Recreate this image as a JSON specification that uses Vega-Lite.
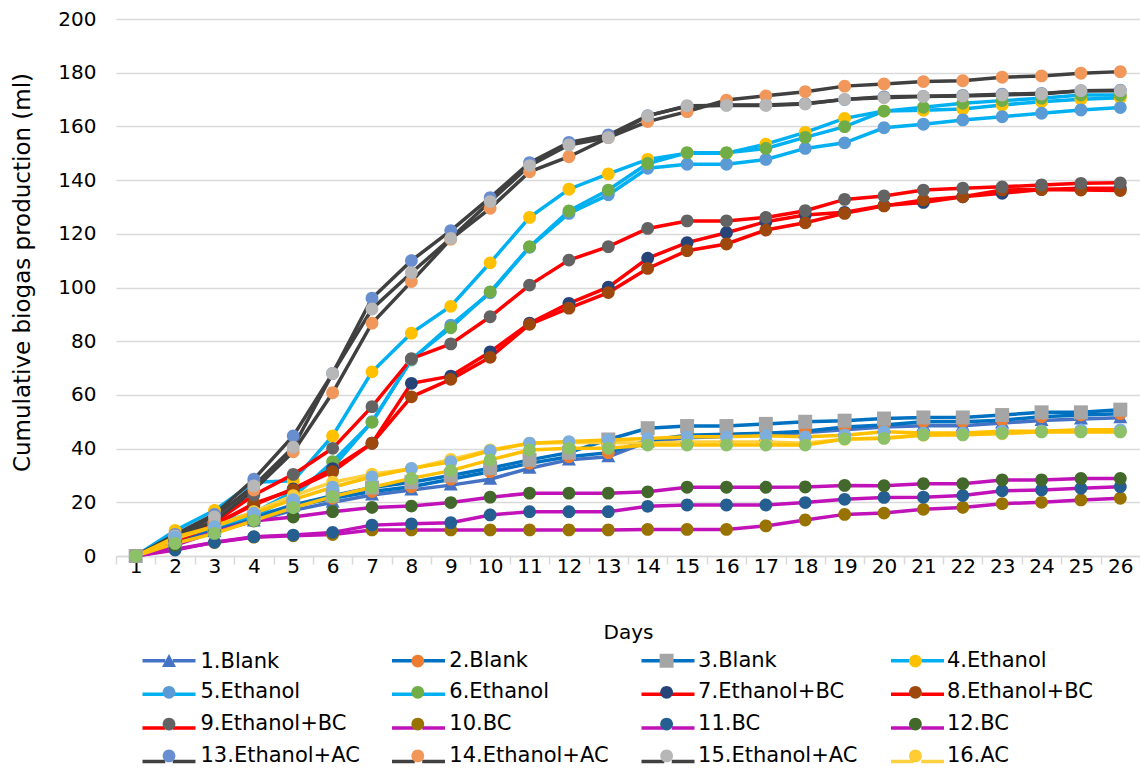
{
"$schema":"https://vega.github.io/schema/vega-lite/v6.json",
"width":1024,"height":537,
"autosize":{"type":"none"},
"padding":{"left":116,"top":19,"right":0,"bottom":217},
"background":"white",
"config":{"view":{"stroke":null},"font":"DejaVu Sans"},
"data":{"values":[
{"s":"1.Blank","i":1,"d":1,"v":0},{"s":"1.Blank","i":1,"d":2,"v":5},{"s":"1.Blank","i":1,"d":3,"v":9},{"s":"1.Blank","i":1,"d":4,"v":13},{"s":"1.Blank","i":1,"d":5,"v":17},{"s":"1.Blank","i":1,"d":6,"v":20},{"s":"1.Blank","i":1,"d":7,"v":22.7},{"s":"1.Blank","i":1,"d":8,"v":24.6},{"s":"1.Blank","i":1,"d":9,"v":26.4},{"s":"1.Blank","i":1,"d":10,"v":28.6},{"s":"1.Blank","i":1,"d":11,"v":32.7},{"s":"1.Blank","i":1,"d":12,"v":35.8},{"s":"1.Blank","i":1,"d":13,"v":37},{"s":"1.Blank","i":1,"d":14,"v":42.5},{"s":"1.Blank","i":1,"d":15,"v":44},{"s":"1.Blank","i":1,"d":16,"v":44.5},{"s":"1.Blank","i":1,"d":17,"v":45},{"s":"1.Blank","i":1,"d":18,"v":46},{"s":"1.Blank","i":1,"d":19,"v":47},{"s":"1.Blank","i":1,"d":20,"v":48},{"s":"1.Blank","i":1,"d":21,"v":48.5},{"s":"1.Blank","i":1,"d":22,"v":48.5},{"s":"1.Blank","i":1,"d":23,"v":49.5},{"s":"1.Blank","i":1,"d":24,"v":50.5},{"s":"1.Blank","i":1,"d":25,"v":51},{"s":"1.Blank","i":1,"d":26,"v":51.5},
{"s":"2.Blank","i":2,"d":1,"v":0},{"s":"2.Blank","i":2,"d":2,"v":5.5},{"s":"2.Blank","i":2,"d":3,"v":10},{"s":"2.Blank","i":2,"d":4,"v":14},{"s":"2.Blank","i":2,"d":5,"v":18.5},{"s":"2.Blank","i":2,"d":6,"v":21.5},{"s":"2.Blank","i":2,"d":7,"v":24},{"s":"2.Blank","i":2,"d":8,"v":25.8},{"s":"2.Blank","i":2,"d":9,"v":28.6},{"s":"2.Blank","i":2,"d":10,"v":31.4},{"s":"2.Blank","i":2,"d":11,"v":34.5},{"s":"2.Blank","i":2,"d":12,"v":37},{"s":"2.Blank","i":2,"d":13,"v":38.5},{"s":"2.Blank","i":2,"d":14,"v":43},{"s":"2.Blank","i":2,"d":15,"v":45},{"s":"2.Blank","i":2,"d":16,"v":45.3},{"s":"2.Blank","i":2,"d":17,"v":45.7},{"s":"2.Blank","i":2,"d":18,"v":46.5},{"s":"2.Blank","i":2,"d":19,"v":48},{"s":"2.Blank","i":2,"d":20,"v":48.8},{"s":"2.Blank","i":2,"d":21,"v":50},{"s":"2.Blank","i":2,"d":22,"v":50},{"s":"2.Blank","i":2,"d":23,"v":50.6},{"s":"2.Blank","i":2,"d":24,"v":51.9},{"s":"2.Blank","i":2,"d":25,"v":52.5},{"s":"2.Blank","i":2,"d":26,"v":53},
{"s":"3.Blank","i":3,"d":1,"v":0},{"s":"3.Blank","i":3,"d":2,"v":6},{"s":"3.Blank","i":3,"d":3,"v":10.5},{"s":"3.Blank","i":3,"d":4,"v":14.5},{"s":"3.Blank","i":3,"d":5,"v":19},{"s":"3.Blank","i":3,"d":6,"v":22.5},{"s":"3.Blank","i":3,"d":7,"v":25.5},{"s":"3.Blank","i":3,"d":8,"v":27.5},{"s":"3.Blank","i":3,"d":9,"v":30},{"s":"3.Blank","i":3,"d":10,"v":32.7},{"s":"3.Blank","i":3,"d":11,"v":35.8},{"s":"3.Blank","i":3,"d":12,"v":38.5},{"s":"3.Blank","i":3,"d":13,"v":43.4},{"s":"3.Blank","i":3,"d":14,"v":47.6},{"s":"3.Blank","i":3,"d":15,"v":48.4},{"s":"3.Blank","i":3,"d":16,"v":48.4},{"s":"3.Blank","i":3,"d":17,"v":49.2},{"s":"3.Blank","i":3,"d":18,"v":50},{"s":"3.Blank","i":3,"d":19,"v":50.4},{"s":"3.Blank","i":3,"d":20,"v":51.2},{"s":"3.Blank","i":3,"d":21,"v":51.6},{"s":"3.Blank","i":3,"d":22,"v":51.6},{"s":"3.Blank","i":3,"d":23,"v":52.5},{"s":"3.Blank","i":3,"d":24,"v":53.5},{"s":"3.Blank","i":3,"d":25,"v":53.5},{"s":"3.Blank","i":3,"d":26,"v":54.5},
{"s":"4.Ethanol","i":4,"d":1,"v":0},{"s":"4.Ethanol","i":4,"d":2,"v":9.5},{"s":"4.Ethanol","i":4,"d":3,"v":17},{"s":"4.Ethanol","i":4,"d":4,"v":27.5},{"s":"4.Ethanol","i":4,"d":5,"v":28},{"s":"4.Ethanol","i":4,"d":6,"v":44.7},{"s":"4.Ethanol","i":4,"d":7,"v":68.6},{"s":"4.Ethanol","i":4,"d":8,"v":83},{"s":"4.Ethanol","i":4,"d":9,"v":93},{"s":"4.Ethanol","i":4,"d":10,"v":109.2},{"s":"4.Ethanol","i":4,"d":11,"v":126.1},{"s":"4.Ethanol","i":4,"d":12,"v":136.6},{"s":"4.Ethanol","i":4,"d":13,"v":142.3},{"s":"4.Ethanol","i":4,"d":14,"v":147.7},{"s":"4.Ethanol","i":4,"d":15,"v":150},{"s":"4.Ethanol","i":4,"d":16,"v":150},{"s":"4.Ethanol","i":4,"d":17,"v":153.4},{"s":"4.Ethanol","i":4,"d":18,"v":157.8},{"s":"4.Ethanol","i":4,"d":19,"v":163},{"s":"4.Ethanol","i":4,"d":20,"v":165.7},{"s":"4.Ethanol","i":4,"d":21,"v":166},{"s":"4.Ethanol","i":4,"d":22,"v":166.5},{"s":"4.Ethanol","i":4,"d":23,"v":168},{"s":"4.Ethanol","i":4,"d":24,"v":169.2},{"s":"4.Ethanol","i":4,"d":25,"v":170.1},{"s":"4.Ethanol","i":4,"d":26,"v":170.7},
{"s":"5.Ethanol","i":5,"d":1,"v":0},{"s":"5.Ethanol","i":5,"d":2,"v":7},{"s":"5.Ethanol","i":5,"d":3,"v":12},{"s":"5.Ethanol","i":5,"d":4,"v":16},{"s":"5.Ethanol","i":5,"d":5,"v":24},{"s":"5.Ethanol","i":5,"d":6,"v":33},{"s":"5.Ethanol","i":5,"d":7,"v":50},{"s":"5.Ethanol","i":5,"d":8,"v":73},{"s":"5.Ethanol","i":5,"d":9,"v":86},{"s":"5.Ethanol","i":5,"d":10,"v":98},{"s":"5.Ethanol","i":5,"d":11,"v":115},{"s":"5.Ethanol","i":5,"d":12,"v":127.6},{"s":"5.Ethanol","i":5,"d":13,"v":134.5},{"s":"5.Ethanol","i":5,"d":14,"v":144.4},{"s":"5.Ethanol","i":5,"d":15,"v":145.9},{"s":"5.Ethanol","i":5,"d":16,"v":145.9},{"s":"5.Ethanol","i":5,"d":17,"v":147.7},{"s":"5.Ethanol","i":5,"d":18,"v":151.8},{"s":"5.Ethanol","i":5,"d":19,"v":153.9},{"s":"5.Ethanol","i":5,"d":20,"v":159.5},{"s":"5.Ethanol","i":5,"d":21,"v":160.8},{"s":"5.Ethanol","i":5,"d":22,"v":162.4},{"s":"5.Ethanol","i":5,"d":23,"v":163.6},{"s":"5.Ethanol","i":5,"d":24,"v":164.9},{"s":"5.Ethanol","i":5,"d":25,"v":166.1},{"s":"5.Ethanol","i":5,"d":26,"v":167},
{"s":"6.Ethanol","i":6,"d":1,"v":0},{"s":"6.Ethanol","i":6,"d":2,"v":6},{"s":"6.Ethanol","i":6,"d":3,"v":11},{"s":"6.Ethanol","i":6,"d":4,"v":15},{"s":"6.Ethanol","i":6,"d":5,"v":22},{"s":"6.Ethanol","i":6,"d":6,"v":35.1},{"s":"6.Ethanol","i":6,"d":7,"v":49.8},{"s":"6.Ethanol","i":6,"d":8,"v":73.3},{"s":"6.Ethanol","i":6,"d":9,"v":85},{"s":"6.Ethanol","i":6,"d":10,"v":98.4},{"s":"6.Ethanol","i":6,"d":11,"v":115.2},{"s":"6.Ethanol","i":6,"d":12,"v":128.5},{"s":"6.Ethanol","i":6,"d":13,"v":136.3},{"s":"6.Ethanol","i":6,"d":14,"v":146.2},{"s":"6.Ethanol","i":6,"d":15,"v":150.2},{"s":"6.Ethanol","i":6,"d":16,"v":150.2},{"s":"6.Ethanol","i":6,"d":17,"v":151.8},{"s":"6.Ethanol","i":6,"d":18,"v":155.9},{"s":"6.Ethanol","i":6,"d":19,"v":159.9},{"s":"6.Ethanol","i":6,"d":20,"v":165.7},{"s":"6.Ethanol","i":6,"d":21,"v":167.1},{"s":"6.Ethanol","i":6,"d":22,"v":168.6},{"s":"6.Ethanol","i":6,"d":23,"v":169.6},{"s":"6.Ethanol","i":6,"d":24,"v":170.5},{"s":"6.Ethanol","i":6,"d":25,"v":171.7},{"s":"6.Ethanol","i":6,"d":26,"v":171.7},
{"s":"7.Ethanol+BC","i":7,"d":1,"v":0},{"s":"7.Ethanol+BC","i":7,"d":2,"v":6},{"s":"7.Ethanol+BC","i":7,"d":3,"v":12},{"s":"7.Ethanol+BC","i":7,"d":4,"v":19},{"s":"7.Ethanol+BC","i":7,"d":5,"v":25},{"s":"7.Ethanol+BC","i":7,"d":6,"v":32.5},{"s":"7.Ethanol+BC","i":7,"d":7,"v":42},{"s":"7.Ethanol+BC","i":7,"d":8,"v":64.3},{"s":"7.Ethanol+BC","i":7,"d":9,"v":67},{"s":"7.Ethanol+BC","i":7,"d":10,"v":76},{"s":"7.Ethanol+BC","i":7,"d":11,"v":86.7},{"s":"7.Ethanol+BC","i":7,"d":12,"v":94.1},{"s":"7.Ethanol+BC","i":7,"d":13,"v":100.1},{"s":"7.Ethanol+BC","i":7,"d":14,"v":110.9},{"s":"7.Ethanol+BC","i":7,"d":15,"v":116.7},{"s":"7.Ethanol+BC","i":7,"d":16,"v":120.4},{"s":"7.Ethanol+BC","i":7,"d":17,"v":124.5},{"s":"7.Ethanol+BC","i":7,"d":18,"v":127},{"s":"7.Ethanol+BC","i":7,"d":19,"v":128},{"s":"7.Ethanol+BC","i":7,"d":20,"v":130.5},{"s":"7.Ethanol+BC","i":7,"d":21,"v":131.7},{"s":"7.Ethanol+BC","i":7,"d":22,"v":133.8},{"s":"7.Ethanol+BC","i":7,"d":23,"v":135.1},{"s":"7.Ethanol+BC","i":7,"d":24,"v":136.5},{"s":"7.Ethanol+BC","i":7,"d":25,"v":137},{"s":"7.Ethanol+BC","i":7,"d":26,"v":137},
{"s":"8.Ethanol+BC","i":8,"d":1,"v":0},{"s":"8.Ethanol+BC","i":8,"d":2,"v":5.5},{"s":"8.Ethanol+BC","i":8,"d":3,"v":11.5},{"s":"8.Ethanol+BC","i":8,"d":4,"v":19.6},{"s":"8.Ethanol+BC","i":8,"d":5,"v":24.6},{"s":"8.Ethanol+BC","i":8,"d":6,"v":31.4},{"s":"8.Ethanol+BC","i":8,"d":7,"v":42},{"s":"8.Ethanol+BC","i":8,"d":8,"v":59.3},{"s":"8.Ethanol+BC","i":8,"d":9,"v":65.8},{"s":"8.Ethanol+BC","i":8,"d":10,"v":74},{"s":"8.Ethanol+BC","i":8,"d":11,"v":86.3},{"s":"8.Ethanol+BC","i":8,"d":12,"v":92.3},{"s":"8.Ethanol+BC","i":8,"d":13,"v":98.1},{"s":"8.Ethanol+BC","i":8,"d":14,"v":107.1},{"s":"8.Ethanol+BC","i":8,"d":15,"v":113.7},{"s":"8.Ethanol+BC","i":8,"d":16,"v":116.2},{"s":"8.Ethanol+BC","i":8,"d":17,"v":121.4},{"s":"8.Ethanol+BC","i":8,"d":18,"v":124.1},{"s":"8.Ethanol+BC","i":8,"d":19,"v":127.6},{"s":"8.Ethanol+BC","i":8,"d":20,"v":130.4},{"s":"8.Ethanol+BC","i":8,"d":21,"v":132.6},{"s":"8.Ethanol+BC","i":8,"d":22,"v":133.8},{"s":"8.Ethanol+BC","i":8,"d":23,"v":136.3},{"s":"8.Ethanol+BC","i":8,"d":24,"v":136.5},{"s":"8.Ethanol+BC","i":8,"d":25,"v":136.3},{"s":"8.Ethanol+BC","i":8,"d":26,"v":136.1},
{"s":"9.Ethanol+BC","i":9,"d":1,"v":0},{"s":"9.Ethanol+BC","i":9,"d":2,"v":6},{"s":"9.Ethanol+BC","i":9,"d":3,"v":12.5},{"s":"9.Ethanol+BC","i":9,"d":4,"v":22.7},{"s":"9.Ethanol+BC","i":9,"d":5,"v":30.4},{"s":"9.Ethanol+BC","i":9,"d":6,"v":40.1},{"s":"9.Ethanol+BC","i":9,"d":7,"v":55.6},{"s":"9.Ethanol+BC","i":9,"d":8,"v":73.5},{"s":"9.Ethanol+BC","i":9,"d":9,"v":79},{"s":"9.Ethanol+BC","i":9,"d":10,"v":89.1},{"s":"9.Ethanol+BC","i":9,"d":11,"v":100.9},{"s":"9.Ethanol+BC","i":9,"d":12,"v":110.2},{"s":"9.Ethanol+BC","i":9,"d":13,"v":115.2},{"s":"9.Ethanol+BC","i":9,"d":14,"v":122},{"s":"9.Ethanol+BC","i":9,"d":15,"v":124.8},{"s":"9.Ethanol+BC","i":9,"d":16,"v":124.8},{"s":"9.Ethanol+BC","i":9,"d":17,"v":126.1},{"s":"9.Ethanol+BC","i":9,"d":18,"v":128.6},{"s":"9.Ethanol+BC","i":9,"d":19,"v":132.8},{"s":"9.Ethanol+BC","i":9,"d":20,"v":134.1},{"s":"9.Ethanol+BC","i":9,"d":21,"v":136.3},{"s":"9.Ethanol+BC","i":9,"d":22,"v":137},{"s":"9.Ethanol+BC","i":9,"d":23,"v":137.5},{"s":"9.Ethanol+BC","i":9,"d":24,"v":138.2},{"s":"9.Ethanol+BC","i":9,"d":25,"v":138.8},{"s":"9.Ethanol+BC","i":9,"d":26,"v":139},
{"s":"10.BC","i":10,"d":1,"v":0},{"s":"10.BC","i":10,"d":2,"v":2.5},{"s":"10.BC","i":10,"d":3,"v":5},{"s":"10.BC","i":10,"d":4,"v":7},{"s":"10.BC","i":10,"d":5,"v":7.5},{"s":"10.BC","i":10,"d":6,"v":8},{"s":"10.BC","i":10,"d":7,"v":9.7},{"s":"10.BC","i":10,"d":8,"v":9.7},{"s":"10.BC","i":10,"d":9,"v":9.7},{"s":"10.BC","i":10,"d":10,"v":9.7},{"s":"10.BC","i":10,"d":11,"v":9.7},{"s":"10.BC","i":10,"d":12,"v":9.7},{"s":"10.BC","i":10,"d":13,"v":9.7},{"s":"10.BC","i":10,"d":14,"v":9.9},{"s":"10.BC","i":10,"d":15,"v":9.9},{"s":"10.BC","i":10,"d":16,"v":9.9},{"s":"10.BC","i":10,"d":17,"v":11.2},{"s":"10.BC","i":10,"d":18,"v":13.4},{"s":"10.BC","i":10,"d":19,"v":15.5},{"s":"10.BC","i":10,"d":20,"v":16},{"s":"10.BC","i":10,"d":21,"v":17.4},{"s":"10.BC","i":10,"d":22,"v":18.1},{"s":"10.BC","i":10,"d":23,"v":19.5},{"s":"10.BC","i":10,"d":24,"v":20},{"s":"10.BC","i":10,"d":25,"v":20.9},{"s":"10.BC","i":10,"d":26,"v":21.5},
{"s":"11.BC","i":11,"d":1,"v":0},{"s":"11.BC","i":11,"d":2,"v":2.2},{"s":"11.BC","i":11,"d":3,"v":5.1},{"s":"11.BC","i":11,"d":4,"v":7.2},{"s":"11.BC","i":11,"d":5,"v":7.8},{"s":"11.BC","i":11,"d":6,"v":8.8},{"s":"11.BC","i":11,"d":7,"v":11.5},{"s":"11.BC","i":11,"d":8,"v":12},{"s":"11.BC","i":11,"d":9,"v":12.4},{"s":"11.BC","i":11,"d":10,"v":15.3},{"s":"11.BC","i":11,"d":11,"v":16.5},{"s":"11.BC","i":11,"d":12,"v":16.5},{"s":"11.BC","i":11,"d":13,"v":16.5},{"s":"11.BC","i":11,"d":14,"v":18.5},{"s":"11.BC","i":11,"d":15,"v":19},{"s":"11.BC","i":11,"d":16,"v":19},{"s":"11.BC","i":11,"d":17,"v":19},{"s":"11.BC","i":11,"d":18,"v":19.9},{"s":"11.BC","i":11,"d":19,"v":21.1},{"s":"11.BC","i":11,"d":20,"v":21.8},{"s":"11.BC","i":11,"d":21,"v":21.9},{"s":"11.BC","i":11,"d":22,"v":22.5},{"s":"11.BC","i":11,"d":23,"v":24.3},{"s":"11.BC","i":11,"d":24,"v":24.6},{"s":"11.BC","i":11,"d":25,"v":25.2},{"s":"11.BC","i":11,"d":26,"v":25.8},
{"s":"12.BC","i":12,"d":1,"v":0},{"s":"12.BC","i":12,"d":2,"v":4},{"s":"12.BC","i":12,"d":3,"v":9},{"s":"12.BC","i":12,"d":4,"v":13},{"s":"12.BC","i":12,"d":5,"v":14.5},{"s":"12.BC","i":12,"d":6,"v":16.5},{"s":"12.BC","i":12,"d":7,"v":18.1},{"s":"12.BC","i":12,"d":8,"v":18.6},{"s":"12.BC","i":12,"d":9,"v":19.9},{"s":"12.BC","i":12,"d":10,"v":21.9},{"s":"12.BC","i":12,"d":11,"v":23.4},{"s":"12.BC","i":12,"d":12,"v":23.4},{"s":"12.BC","i":12,"d":13,"v":23.4},{"s":"12.BC","i":12,"d":14,"v":23.9},{"s":"12.BC","i":12,"d":15,"v":25.6},{"s":"12.BC","i":12,"d":16,"v":25.6},{"s":"12.BC","i":12,"d":17,"v":25.6},{"s":"12.BC","i":12,"d":18,"v":25.7},{"s":"12.BC","i":12,"d":19,"v":26.3},{"s":"12.BC","i":12,"d":20,"v":26.2},{"s":"12.BC","i":12,"d":21,"v":26.9},{"s":"12.BC","i":12,"d":22,"v":26.9},{"s":"12.BC","i":12,"d":23,"v":28.3},{"s":"12.BC","i":12,"d":24,"v":28.3},{"s":"12.BC","i":12,"d":25,"v":28.9},{"s":"12.BC","i":12,"d":26,"v":28.9},
{"s":"13.Ethanol+AC","i":13,"d":1,"v":0},{"s":"13.Ethanol+AC","i":13,"d":2,"v":8},{"s":"13.Ethanol+AC","i":13,"d":3,"v":15.5},{"s":"13.Ethanol+AC","i":13,"d":4,"v":28.6},{"s":"13.Ethanol+AC","i":13,"d":5,"v":44.7},{"s":"13.Ethanol+AC","i":13,"d":6,"v":68},{"s":"13.Ethanol+AC","i":13,"d":7,"v":96},{"s":"13.Ethanol+AC","i":13,"d":8,"v":110},{"s":"13.Ethanol+AC","i":13,"d":9,"v":121.2},{"s":"13.Ethanol+AC","i":13,"d":10,"v":133.5},{"s":"13.Ethanol+AC","i":13,"d":11,"v":146.5},{"s":"13.Ethanol+AC","i":13,"d":12,"v":154},{"s":"13.Ethanol+AC","i":13,"d":13,"v":156.8},{"s":"13.Ethanol+AC","i":13,"d":14,"v":164},{"s":"13.Ethanol+AC","i":13,"d":15,"v":167.5},{"s":"13.Ethanol+AC","i":13,"d":16,"v":168},{"s":"13.Ethanol+AC","i":13,"d":17,"v":168},{"s":"13.Ethanol+AC","i":13,"d":18,"v":168.5},{"s":"13.Ethanol+AC","i":13,"d":19,"v":170},{"s":"13.Ethanol+AC","i":13,"d":20,"v":171},{"s":"13.Ethanol+AC","i":13,"d":21,"v":171.2},{"s":"13.Ethanol+AC","i":13,"d":22,"v":171.5},{"s":"13.Ethanol+AC","i":13,"d":23,"v":172},{"s":"13.Ethanol+AC","i":13,"d":24,"v":172.3},{"s":"13.Ethanol+AC","i":13,"d":25,"v":173.3},{"s":"13.Ethanol+AC","i":13,"d":26,"v":173.5},
{"s":"14.Ethanol+AC","i":14,"d":1,"v":0},{"s":"14.Ethanol+AC","i":14,"d":2,"v":7},{"s":"14.Ethanol+AC","i":14,"d":3,"v":13},{"s":"14.Ethanol+AC","i":14,"d":4,"v":24.6},{"s":"14.Ethanol+AC","i":14,"d":5,"v":38.8},{"s":"14.Ethanol+AC","i":14,"d":6,"v":60.8},{"s":"14.Ethanol+AC","i":14,"d":7,"v":86.7},{"s":"14.Ethanol+AC","i":14,"d":8,"v":102.2},{"s":"14.Ethanol+AC","i":14,"d":9,"v":118},{"s":"14.Ethanol+AC","i":14,"d":10,"v":129.5},{"s":"14.Ethanol+AC","i":14,"d":11,"v":143.1},{"s":"14.Ethanol+AC","i":14,"d":12,"v":148.7},{"s":"14.Ethanol+AC","i":14,"d":13,"v":155.8},{"s":"14.Ethanol+AC","i":14,"d":14,"v":161.8},{"s":"14.Ethanol+AC","i":14,"d":15,"v":165.5},{"s":"14.Ethanol+AC","i":14,"d":16,"v":169.8},{"s":"14.Ethanol+AC","i":14,"d":17,"v":171.4},{"s":"14.Ethanol+AC","i":14,"d":18,"v":172.9},{"s":"14.Ethanol+AC","i":14,"d":19,"v":175},{"s":"14.Ethanol+AC","i":14,"d":20,"v":175.8},{"s":"14.Ethanol+AC","i":14,"d":21,"v":176.7},{"s":"14.Ethanol+AC","i":14,"d":22,"v":177},{"s":"14.Ethanol+AC","i":14,"d":23,"v":178.3},{"s":"14.Ethanol+AC","i":14,"d":24,"v":178.8},{"s":"14.Ethanol+AC","i":14,"d":25,"v":179.8},{"s":"14.Ethanol+AC","i":14,"d":26,"v":180.4},
{"s":"15.Ethanol+AC","i":15,"d":1,"v":0},{"s":"15.Ethanol+AC","i":15,"d":2,"v":7.5},{"s":"15.Ethanol+AC","i":15,"d":3,"v":14.6},{"s":"15.Ethanol+AC","i":15,"d":4,"v":26.1},{"s":"15.Ethanol+AC","i":15,"d":5,"v":40.5},{"s":"15.Ethanol+AC","i":15,"d":6,"v":68},{"s":"15.Ethanol+AC","i":15,"d":7,"v":92},{"s":"15.Ethanol+AC","i":15,"d":8,"v":105.5},{"s":"15.Ethanol+AC","i":15,"d":9,"v":118.3},{"s":"15.Ethanol+AC","i":15,"d":10,"v":132},{"s":"15.Ethanol+AC","i":15,"d":11,"v":145.4},{"s":"15.Ethanol+AC","i":15,"d":12,"v":153.1},{"s":"15.Ethanol+AC","i":15,"d":13,"v":155.8},{"s":"15.Ethanol+AC","i":15,"d":14,"v":163.9},{"s":"15.Ethanol+AC","i":15,"d":15,"v":167.7},{"s":"15.Ethanol+AC","i":15,"d":16,"v":167.8},{"s":"15.Ethanol+AC","i":15,"d":17,"v":167.8},{"s":"15.Ethanol+AC","i":15,"d":18,"v":168.3},{"s":"15.Ethanol+AC","i":15,"d":19,"v":170.1},{"s":"15.Ethanol+AC","i":15,"d":20,"v":170.7},{"s":"15.Ethanol+AC","i":15,"d":21,"v":171.1},{"s":"15.Ethanol+AC","i":15,"d":22,"v":171.3},{"s":"15.Ethanol+AC","i":15,"d":23,"v":171.7},{"s":"15.Ethanol+AC","i":15,"d":24,"v":172.1},{"s":"15.Ethanol+AC","i":15,"d":25,"v":173.3},{"s":"15.Ethanol+AC","i":15,"d":26,"v":173.3},
{"s":"16.AC","i":16,"d":1,"v":0},{"s":"16.AC","i":16,"d":2,"v":6.5},{"s":"16.AC","i":16,"d":3,"v":11},{"s":"16.AC","i":16,"d":4,"v":16.5},{"s":"16.AC","i":16,"d":5,"v":22.5},{"s":"16.AC","i":16,"d":6,"v":27.5},{"s":"16.AC","i":16,"d":7,"v":30.5},{"s":"16.AC","i":16,"d":8,"v":32.5},{"s":"16.AC","i":16,"d":9,"v":36},{"s":"16.AC","i":16,"d":10,"v":39.5},{"s":"16.AC","i":16,"d":11,"v":42},{"s":"16.AC","i":16,"d":12,"v":42.3},{"s":"16.AC","i":16,"d":13,"v":42.3},{"s":"16.AC","i":16,"d":14,"v":42},{"s":"16.AC","i":16,"d":15,"v":42.5},{"s":"16.AC","i":16,"d":16,"v":42.5},{"s":"16.AC","i":16,"d":17,"v":42.5},{"s":"16.AC","i":16,"d":18,"v":42},{"s":"16.AC","i":16,"d":19,"v":43.5},{"s":"16.AC","i":16,"d":20,"v":44},{"s":"16.AC","i":16,"d":21,"v":45},{"s":"16.AC","i":16,"d":22,"v":45.5},{"s":"16.AC","i":16,"d":23,"v":45.5},{"s":"16.AC","i":16,"d":24,"v":46.5},{"s":"16.AC","i":16,"d":25,"v":46.5},{"s":"16.AC","i":16,"d":26,"v":46.5},
{"s":"17.AC","i":17,"d":1,"v":0},{"s":"17.AC","i":17,"d":2,"v":7},{"s":"17.AC","i":17,"d":3,"v":11},{"s":"17.AC","i":17,"d":4,"v":16},{"s":"17.AC","i":17,"d":5,"v":21},{"s":"17.AC","i":17,"d":6,"v":25.6},{"s":"17.AC","i":17,"d":7,"v":29.5},{"s":"17.AC","i":17,"d":8,"v":32.6},{"s":"17.AC","i":17,"d":9,"v":35.1},{"s":"17.AC","i":17,"d":10,"v":39.2},{"s":"17.AC","i":17,"d":11,"v":42},{"s":"17.AC","i":17,"d":12,"v":42.6},{"s":"17.AC","i":17,"d":13,"v":43.2},{"s":"17.AC","i":17,"d":14,"v":43.8},{"s":"17.AC","i":17,"d":15,"v":44.4},{"s":"17.AC","i":17,"d":16,"v":44.4},{"s":"17.AC","i":17,"d":17,"v":44.8},{"s":"17.AC","i":17,"d":18,"v":44.4},{"s":"17.AC","i":17,"d":19,"v":45},{"s":"17.AC","i":17,"d":20,"v":46.3},{"s":"17.AC","i":17,"d":21,"v":45.8},{"s":"17.AC","i":17,"d":22,"v":45.8},{"s":"17.AC","i":17,"d":23,"v":46.5},{"s":"17.AC","i":17,"d":24,"v":46.5},{"s":"17.AC","i":17,"d":25,"v":47},{"s":"17.AC","i":17,"d":26,"v":47},
{"s":"18.AC","i":18,"d":1,"v":0},{"s":"18.AC","i":18,"d":2,"v":4.7},{"s":"18.AC","i":18,"d":3,"v":8.4},{"s":"18.AC","i":18,"d":4,"v":13.2},{"s":"18.AC","i":18,"d":5,"v":18},{"s":"18.AC","i":18,"d":6,"v":22.1},{"s":"18.AC","i":18,"d":7,"v":25.6},{"s":"18.AC","i":18,"d":8,"v":28.9},{"s":"18.AC","i":18,"d":9,"v":31.8},{"s":"18.AC","i":18,"d":10,"v":35.8},{"s":"18.AC","i":18,"d":11,"v":39.5},{"s":"18.AC","i":18,"d":12,"v":40.1},{"s":"18.AC","i":18,"d":13,"v":40.1},{"s":"18.AC","i":18,"d":14,"v":41.3},{"s":"18.AC","i":18,"d":15,"v":41.3},{"s":"18.AC","i":18,"d":16,"v":41.3},{"s":"18.AC","i":18,"d":17,"v":41.3},{"s":"18.AC","i":18,"d":18,"v":41.3},{"s":"18.AC","i":18,"d":19,"v":43.6},{"s":"18.AC","i":18,"d":20,"v":43.8},{"s":"18.AC","i":18,"d":21,"v":45.1},{"s":"18.AC","i":18,"d":22,"v":45.1},{"s":"18.AC","i":18,"d":23,"v":45.7},{"s":"18.AC","i":18,"d":24,"v":46.2},{"s":"18.AC","i":18,"d":25,"v":46.2},{"s":"18.AC","i":18,"d":26,"v":46.2}
]},
"encoding":{
"x":{"field":"d","type":"ordinal","scale":{"type":"band","paddingInner":0,"paddingOuter":0},
 "axis":{"title":"Days","titleFontSize":20,"titleFontWeight":"normal","titleColor":"black","titlePadding":46,
 "labelFontSize":20,"labelColor":"black","labelAngle":0,"labelPadding":-8,"tickBand":"extent","domainColor":"#D9D9D9","domainWidth":1.5,"tickColor":"#D9D9D9","tickWidth":1.5,"tickSize":8,"grid":false}},
"y":{"field":"v","type":"quantitative","scale":{"domain":[0,200],"nice":false,"zero":true},
 "axis":{"title":"Cumulative biogas production (ml)","titleFontSize":23,"titleFontWeight":"normal","titleColor":"black","titleX":-94,"titleY":253,"titleBaseline":"middle",
 "values":[0,20,40,60,80,100,120,140,160,180,200],"labelFontSize":20,"labelColor":"black","labelPadding":20,"domain":false,"ticks":false,"grid":true,"gridColor":"#D9D9D9","gridWidth":1.5}}
},
"layer":[
{"mark":{"type":"line","strokeWidth":3.5},
 "encoding":{
  "color":{"field":"s","type":"nominal",
   "scale":{"domain":["1.Blank","2.Blank","3.Blank","4.Ethanol","5.Ethanol","6.Ethanol","7.Ethanol+BC","8.Ethanol+BC","9.Ethanol+BC","10.BC","11.BC","12.BC","13.Ethanol+AC","14.Ethanol+AC","15.Ethanol+AC","16.AC","17.AC","18.AC"],
    "range":["#4472C4","#0070C0","#0070C0","#00B0F0","#00B0F0","#00B0F0","#FF0000","#FF0000","#FF0000","#C012B8","#C012B8","#C012B8","#404040","#404040","#404040","#FFD040","#FFC000","#FFC000"]},
   "legend":{"orient":"none","legendX":26,"legendY":631,"direction":"horizontal","columns":4,"gridAlign":"all","columnPadding":166.5,"rowPadding":11.7,"padding":0,"title":null,
    "values":["1.Blank","2.Blank","3.Blank","4.Ethanol","5.Ethanol","6.Ethanol","7.Ethanol+BC","8.Ethanol+BC","9.Ethanol+BC","10.BC","11.BC","12.BC","13.Ethanol+AC","14.Ethanol+AC","15.Ethanol+AC","16.AC"],
    "labelExpr":"''",
    "symbolType":"M-5.3,0L-0.75,0M0.75,0L5.3,0","symbolSize":100,"symbolStrokeWidth":3.5,"symbolFillColor":"transparent","symbolOffset":16.5,
    "labelOffset":38,"labelFontSize":21,"labelLimit":0}}
 }},
{"mark":{"type":"point","filled":true,"size":100,"opacity":1,"strokeWidth":0},
 "encoding":{
  "fill":{"field":"s","type":"nominal","sort":{"field":"i","op":"min"},
   "scale":{"range":["#4472C4","#ED7D31","#A5A5A5","#FFC000","#5B9BD5","#70AD47","#264478","#9E480E","#636363","#997300","#255E91","#43682B","#698ED0","#F1975A","#B7B7B7","#FFCD33","#7CAFDD","#8CC168"]},
   "legend":{"orient":"none","legendX":26,"legendY":631,"direction":"horizontal","columns":4,"gridAlign":"all","columnPadding":30.8,"rowPadding":3.8,"padding":0,"title":null,
    "values":["1.Blank","2.Blank","3.Blank","4.Ethanol","5.Ethanol","6.Ethanol","7.Ethanol+BC","8.Ethanol+BC","9.Ethanol+BC","10.BC","11.BC","12.BC","13.Ethanol+AC","14.Ethanol+AC","15.Ethanol+AC","16.AC"],
    "symbolSize":100,"symbolStrokeWidth":3.5,"symbolStrokeColor":"transparent","symbolOffset":16.5,
    "labelOffset":21,"labelFontSize":21,"labelColor":"black","labelLimit":0}},
  "shape":{"field":"s","type":"nominal","sort":{"field":"i","op":"min"},
   "scale":{"range":["M0,-1.5L1.4,1.1L-1.4,1.1Z","M1.28,0A1.28,1.28,0,1,1,-1.28,0A1.28,1.28,0,1,1,1.28,0Z","M-1.4,-1.4L1.4,-1.4L1.4,1.4L-1.4,1.4Z","M1.28,0A1.28,1.28,0,1,1,-1.28,0A1.28,1.28,0,1,1,1.28,0Z","M1.28,0A1.28,1.28,0,1,1,-1.28,0A1.28,1.28,0,1,1,1.28,0Z","M1.28,0A1.28,1.28,0,1,1,-1.28,0A1.28,1.28,0,1,1,1.28,0Z","M1.28,0A1.28,1.28,0,1,1,-1.28,0A1.28,1.28,0,1,1,1.28,0Z","M1.28,0A1.28,1.28,0,1,1,-1.28,0A1.28,1.28,0,1,1,1.28,0Z","M1.28,0A1.28,1.28,0,1,1,-1.28,0A1.28,1.28,0,1,1,1.28,0Z","M1.28,0A1.28,1.28,0,1,1,-1.28,0A1.28,1.28,0,1,1,1.28,0Z","M1.28,0A1.28,1.28,0,1,1,-1.28,0A1.28,1.28,0,1,1,1.28,0Z","M1.28,0A1.28,1.28,0,1,1,-1.28,0A1.28,1.28,0,1,1,1.28,0Z","M1.28,0A1.28,1.28,0,1,1,-1.28,0A1.28,1.28,0,1,1,1.28,0Z","M1.28,0A1.28,1.28,0,1,1,-1.28,0A1.28,1.28,0,1,1,1.28,0Z","M1.28,0A1.28,1.28,0,1,1,-1.28,0A1.28,1.28,0,1,1,1.28,0Z","M1.28,0A1.28,1.28,0,1,1,-1.28,0A1.28,1.28,0,1,1,1.28,0Z","M1.28,0A1.28,1.28,0,1,1,-1.28,0A1.28,1.28,0,1,1,1.28,0Z","M1.28,0A1.28,1.28,0,1,1,-1.28,0A1.28,1.28,0,1,1,1.28,0Z"]},
   "legend":{"orient":"none","legendX":26,"legendY":631,"direction":"horizontal","columns":4,"gridAlign":"all","columnPadding":30.8,"rowPadding":3.8,"padding":0,"title":null,
    "values":["1.Blank","2.Blank","3.Blank","4.Ethanol","5.Ethanol","6.Ethanol","7.Ethanol+BC","8.Ethanol+BC","9.Ethanol+BC","10.BC","11.BC","12.BC","13.Ethanol+AC","14.Ethanol+AC","15.Ethanol+AC","16.AC"],
    "symbolSize":100,"symbolStrokeWidth":3.5,"symbolStrokeColor":"transparent","symbolOffset":16.5,
    "labelOffset":21,"labelFontSize":21,"labelColor":"black","labelLimit":0}}
 }}
]
}
